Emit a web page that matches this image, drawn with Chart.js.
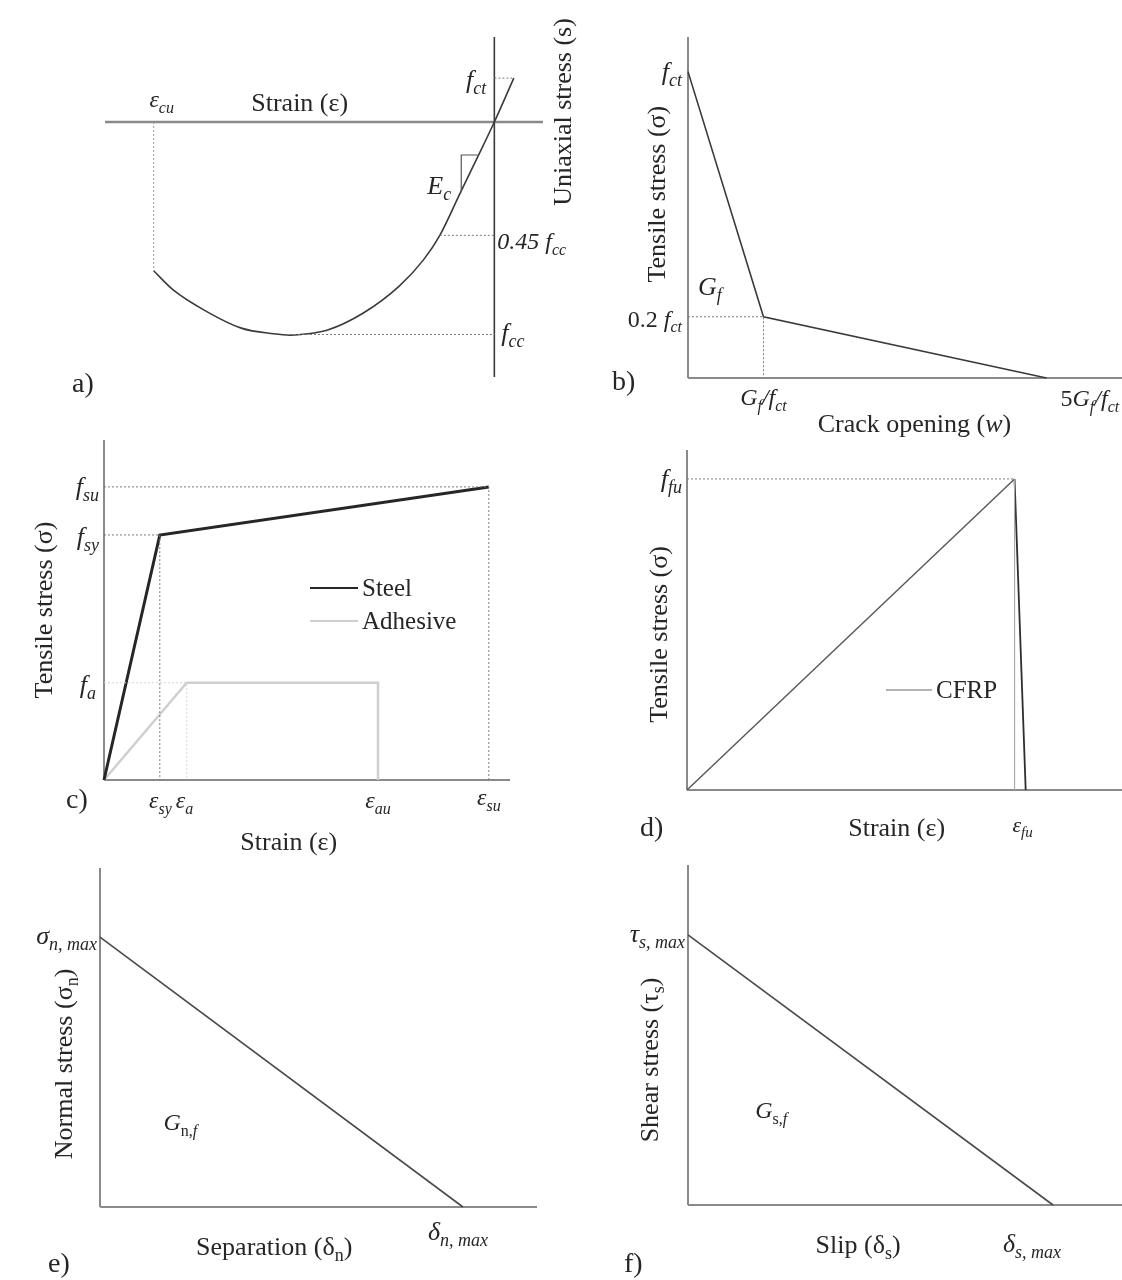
<!DOCTYPE html>
<html>
<head>
<meta charset="utf-8">
<script src="https://cdn.jsdelivr.net/npm/chart.js@4.4.1/dist/chart.umd.min.js"></script>
<style>
  body { margin: 0; background: #fff; }
  #page { position: relative; width: 1122px; height: 1280px; overflow: hidden; }
  #page canvas { position: absolute; left: 0; top: 0; }
</style>
</head>
<body>
<div id="page"></div>
<script>
// a) concrete, uniaxial stress vs strain (compression negative)
const a_strain = [-3.5, -3.3, -2.95, -2.6, -2.27, -2.1, -1.99, -1.72, -1.35, -0.98, -0.73, -0.56, -0.35, -0.17, 0, 0.2]
const a_stress = [-21, -23.7, -26.8, -29.1, -29.9, -30.1, -30, -29.4, -27, -23.2, -19.5, -16, -10, -4.9, 0, 6.2]
const a_eps_cu = -3.5, a_eps_peak = -2.1, a_f_cc = -30
const a_eps_045 = -0.56, a_f_045 = -16
const a_eps_ct = 0.2, a_f_ct = 6.2
const a_ec_eps = [-0.34, -0.17], a_ec_sig = [-9.9, -4.66]

// b) tension softening, crack opening in units of Gf/fct
const b_w = [0, 1, 4.75]
const b_sig = [1, 0.2, 0]

// c) steel and adhesive
const c_steel_eps = [0, 1.45, 10]
const c_steel_sig = [0, 0.836, 1]
const c_adh_eps = [0, 2.15, 7.12, 7.12]
const c_adh_sig = [0, 0.332, 0.332, 0]

// d) CFRP
const d_eps = [0, 1, 1.034]
const d_sig = [0, 1, 0]

// e) normal traction-separation, f) shear traction-slip
const e_sep = [0, 1]
const e_sig = [1, 0]
const f_slip = [0, 1]
const f_tau = [1, 0]

const FONT = '"Liberation Serif", "Times New Roman", serif'
const TEXT = "#262626"
const PAGE_W = 1122, PAGE_H = 1280

function pts(xs, ys) {
  return xs.map((x, i) => ({ x: x, y: ys[i] }))
}

function line(xs, ys, color, width, dash, smooth) {
  return {
    data: pts(xs, ys),
    showLine: true,
    borderColor: color,
    borderWidth: width,
    borderDash: dash || [],
    pointRadius: 0,
    fill: false,
    tension: 0,
    cubicInterpolationMode: smooth ? "monotone" : "default",
    clip: false
  }
}

function dotted(xs, ys, color) {
  return line(xs, ys, color || "#7a7a7a", 1, [2, 2])
}

// "flags:text|flags:text"  i = italic, s = subscript
function richSegs(str) {
  return str.split("|").map(tok => {
    let k = tok.indexOf(":")
    let f = tok.slice(0, k)
    return { it: f.includes("i"), sub: f.includes("s"), t: tok.slice(k + 1) }
  })
}

function drawRich(ctx, x, y, str, size, align) {
  let segs = richSegs(str)
  let total = 0
  segs.forEach(s => {
    s.size = s.sub ? Math.round(size * 0.68) : size
    s.font = (s.it ? "italic " : "") + s.size + "px " + FONT
    ctx.font = s.font
    s.w = ctx.measureText(s.t).width
    total += s.w
  })
  let cx = align == "right" ? x - total : (align == "center" ? x - total / 2 : x)
  ctx.textAlign = "left"
  ctx.textBaseline = "alphabetic"
  segs.forEach(s => {
    ctx.font = s.font
    ctx.fillText(s.t, cx, y + (s.sub ? size * 0.24 : 0))
    cx += s.w
  })
}

const sketchPlugin = {
  id: "sketch",
  beforeDatasetsDraw(chart) {
    let sk = chart.canvas._sketch
    let ctx = chart.ctx, a = chart.chartArea
    let x0 = chart.scales.x.getPixelForValue(0)
    let y0 = chart.scales.y.getPixelForValue(0)
    ctx.save()
    ctx.lineWidth = sk.axisWidth || 2
    ctx.strokeStyle = sk.axisColor || "#8a8a8a"
    ctx.beginPath()
    ctx.moveTo(a.left, y0); ctx.lineTo(a.right, y0)
    ctx.stroke()
    ctx.strokeStyle = sk.yAxisColor || sk.axisColor || "#8a8a8a"
    ctx.lineWidth = sk.yAxisWidth || sk.axisWidth || 2
    ctx.beginPath()
    ctx.moveTo(x0, a.top); ctx.lineTo(x0, a.bottom)
    ctx.stroke()
    ctx.restore()
  },
  afterDatasetsDraw(chart) {
    let sk = chart.canvas._sketch
    let ctx = chart.ctx
    let xs = chart.scales.x, ys = chart.scales.y
    ctx.save()
    ctx.fillStyle = TEXT
    sk.labels.forEach(l => {
      let px = xs.getPixelForValue(l.at[0]) + (l.dx || 0)
      let py = ys.getPixelForValue(l.at[1]) + (l.dy || 0)
      if (l.rot) {
        ctx.save()
        ctx.translate(px, py)
        ctx.rotate(-Math.PI / 2)
        drawRich(ctx, 0, 0, l.text, l.size || 26, "center")
        ctx.restore()
      } else {
        drawRich(ctx, px, py, l.text, l.size || 26, l.align || "left")
      }
    });
    (sk.legend || []).forEach(g => {
      ctx.strokeStyle = g.color || chart.data.datasets[g.ds].borderColor
      ctx.lineWidth = g.width || chart.data.datasets[g.ds].borderWidth
      ctx.beginPath()
      ctx.moveTo(g.px[0], g.px[1]); ctx.lineTo(g.px[0] + g.len, g.px[1])
      ctx.stroke()
      ctx.fillStyle = TEXT
      drawRich(ctx, g.px[0] + g.len + 4, g.px[1] + 8, ":" + g.text, 25, "left")
    })
    ctx.restore()
  }
}

// area = [left, top, right, bottom] of the axes box on the page
function makePanel(area, xRange, yRange, datasets, sketch) {
  let cv = document.createElement("canvas")
  cv.width = PAGE_W; cv.height = PAGE_H
  cv.style.width = PAGE_W + "px"; cv.style.height = PAGE_H + "px"
  cv._sketch = sketch
  document.getElementById("page").appendChild(cv)
  return new Chart(cv, {
    type: "scatter",
    data: { datasets: datasets },
    options: {
      responsive: false,
      animation: false,
      devicePixelRatio: 1,
      events: [],
      layout: { padding: { left: area[0], top: area[1], right: PAGE_W - area[2], bottom: PAGE_H - area[3] } },
      scales: {
        x: { type: "linear", display: false, min: xRange[0], max: xRange[1] },
        y: { type: "linear", display: false, min: yRange[0], max: yRange[1] }
      },
      plugins: { legend: { display: false }, tooltip: { enabled: false } }
    },
    plugins: [sketchPlugin]
  })
}

// ---- a)
makePanel([105, 37, 543, 377], [-4, 0.5], [-36, 12], [
  dotted([a_eps_cu, a_eps_cu], [0, a_stress[0]], "#9a9a9a"),
  dotted([0, a_eps_ct], [a_f_ct, a_f_ct]),
  dotted([a_eps_045, 0], [a_f_045, a_f_045]),
  dotted([a_eps_peak, 0], [a_f_cc, a_f_cc]),
  line([a_ec_eps[0], a_ec_eps[0], a_ec_eps[1]], [a_ec_sig[0], a_ec_sig[1], a_ec_sig[1]], "#555", 1.2),
  line(a_strain, a_stress, "#3a3a3a", 1.6, null, true)
], {
  axisColor: "#8a8a8a", axisWidth: 2.5, yAxisColor: "#3a3a3a", yAxisWidth: 1.6,
  labels: [
    { at: [a_eps_cu, 0], dx: 8, dy: -15, text: "i:ε|is:cu", align: "center", size: 24 },
    { at: [-2, 0], dy: -11, text: ":Strain (ε)", align: "center" },
    { at: [0, a_f_ct], dx: -8, dy: 10, text: "i:f|is:ct", align: "right" },
    { at: [a_ec_eps[0], a_ec_sig[0]], dx: -10, dy: 2, text: "i:E|is:c", align: "right" },
    { at: [0, a_f_045], dx: 3, dy: 14, text: "i:0.45 |i:f|is:cc", align: "left", size: 24 },
    { at: [0, a_f_cc], dx: 7, dy: 6, text: "i:f|is:cc", align: "left" },
    { at: [0.5, 0], dx: 28, dy: -10, text: ":Uniaxial stress (s)", rot: true },
    { at: [-4, -36], dx: -33, dy: 15, text: ":a)", size: 28 }
  ]
})

// ---- b)
makePanel([688, 37, 1122, 378], [0, 5.75], [0, 1.113], [
  dotted([0, b_w[1], b_w[1]], [b_sig[1], b_sig[1], 0]),
  line(b_w, b_sig, "#3a3a3a", 1.6)
], {
  labels: [
    { at: [0, b_sig[0]], dx: -6, dy: 8, text: "i:f|is:ct", align: "right" },
    { at: [0, 0.6], dx: -23, text: ":Tensile stress (σ)", rot: true },
    { at: [0, b_sig[1]], dx: 10, dy: -22, text: "i:G|is:f", align: "left" },
    { at: [0, b_sig[1]], dx: -6, dy: 10, text: ":0.2 |i:f|is:ct", align: "right", size: 24 },
    { at: [0, 0], dx: -76, dy: 12, text: ":b)", size: 28 },
    { at: [b_w[1], 0], dy: 27, text: "i:G|is:f|i:/f|is:ct", align: "center", size: 24 },
    { at: [3, 0], dy: 54, text: ":Crack opening (|i:w|:)", align: "center" },
    { at: [b_w[2], 0], dx: 14, dy: 28, text: ":5|i:G|is:f|i:/f|is:ct", align: "left", size: 24 }
  ]
})

// ---- c)
makePanel([104, 440, 510, 780], [0, 10.55], [0, 1.16], [
  dotted([0, c_adh_eps[1], c_adh_eps[1]], [c_adh_sig[1], c_adh_sig[1], 0], "#d6d6d6"),
  dotted([0, c_steel_eps[1], c_steel_eps[1]], [c_steel_sig[1], c_steel_sig[1], 0]),
  dotted([0, c_steel_eps[2], c_steel_eps[2]], [c_steel_sig[2], c_steel_sig[2], 0]),
  line(c_steel_eps, c_steel_sig, "#262626", 3),
  line(c_adh_eps, c_adh_sig, "#cfcfcf", 2.5)
], {
  labels: [
    { at: [0, c_steel_sig[2]], dx: -5, dy: 8, text: "i:f|is:su", align: "right" },
    { at: [0, c_steel_sig[1]], dx: -5, dy: 10, text: "i:f|is:sy", align: "right" },
    { at: [0, c_adh_sig[1]], dx: -8, dy: 10, text: "i:f|is:a", align: "right" },
    { at: [0, 0.58], dx: -52, text: ":Tensile stress (σ)", rot: true },
    { at: [c_steel_eps[1], 0], dx: 12, dy: 28, text: "i:ε|is:sy", align: "right", size: 24 },
    { at: [c_adh_eps[1], 0], dx: -11, dy: 28, text: "i:ε|is:a", align: "left", size: 24 },
    { at: [c_adh_eps[2], 0], dy: 28, text: "i:ε|is:au", align: "center", size: 24 },
    { at: [c_steel_eps[2], 0], dy: 25, text: "i:ε|is:su", align: "center", size: 24 },
    { at: [0, 0], dx: -38, dy: 28, text: ":c)", size: 28 },
    { at: [4.8, 0], dy: 70, text: ":Strain (ε)", align: "center" }
  ],
  legend: [
    { ds: 3, px: [310, 588], len: 48, text: "Steel", width: 2 },
    { ds: 4, px: [310, 621], len: 48, text: "Adhesive", width: 2 }
  ]
})

// ---- d)
makePanel([687, 450, 1122, 790], [0, 1.328], [0, 1.093], [
  dotted([0, d_eps[1]], [d_sig[1], d_sig[1]]),
  line([d_eps[1], d_eps[1]], [d_sig[1], 0], "#a8a8a8", 1),
  line(d_eps.slice(0, 2), d_sig.slice(0, 2), "#5a5a5a", 1.5),
  line(d_eps.slice(1), d_sig.slice(1), "#2e2e2e", 1.8)
], {
  labels: [
    { at: [0, d_sig[1]], dx: -5, dy: 8, text: "i:f|is:fu", align: "right" },
    { at: [0, 0.5], dx: -20, text: ":Tensile stress (σ)", rot: true },
    { at: [0, 0], dx: -47, dy: 46, text: ":d)", size: 28 },
    { at: [0.64, 0], dy: 46, text: ":Strain (ε)", align: "center" },
    { at: [d_eps[1], 0], dx: 8, dy: 42, text: "i:ε|is:fu", align: "center", size: 22 }
  ],
  legend: [
    { ds: 2, px: [886, 690], len: 46, text: "CFRP", color: "#9a9a9a", width: 1.5 }
  ]
})

// ---- e)
makePanel([100, 868, 537, 1207], [0, 1.204], [0, 1.256], [
  line(e_sep, e_sig, "#4a4a4a", 1.6)
], {
  labels: [
    { at: [0, e_sig[0]], dx: -3, dy: 7, text: "i:σ|is:n, max", align: "right" },
    { at: [0, 0.53], dx: -28, text: ":Normal stress (σ|s:n|:)", rot: true },
    { at: [0.175, 0.285], text: "i:G|s:n,|is:f", align: "left", size: 24 },
    { at: [e_sep[1], 0], dx: -35, dy: 33, text: "i:δ|is:n, max", align: "left" },
    { at: [0.48, 0], dy: 48, text: ":Separation (δ|s:n|:)", align: "center" },
    { at: [0, 0], dx: -52, dy: 65, text: ":e)", size: 28 }
  ]
})

// ---- f)
makePanel([688, 865, 1122, 1205], [0, 1.189], [0, 1.259], [
  line(f_slip, f_tau, "#4a4a4a", 1.6)
], {
  labels: [
    { at: [0, f_tau[0]], dx: -3, dy: 7, text: "i:τ|is:s, max", align: "right" },
    { at: [0, 0.537], dx: -30, text: ":Shear stress (τ|s:s|:)", rot: true },
    { at: [0.184, 0.322], text: "i:G|s:s,|is:f", align: "left", size: 24 },
    { at: [0.466, 0], dy: 48, text: ":Slip (δ|s:s|:)", align: "center" },
    { at: [f_slip[1], 0], dx: -50, dy: 47, text: "i:δ|is:s, max", align: "left" },
    { at: [0, 0], dx: -64, dy: 67, text: ":f)", size: 28 }
  ]
})
</script>
</body>
</html>
